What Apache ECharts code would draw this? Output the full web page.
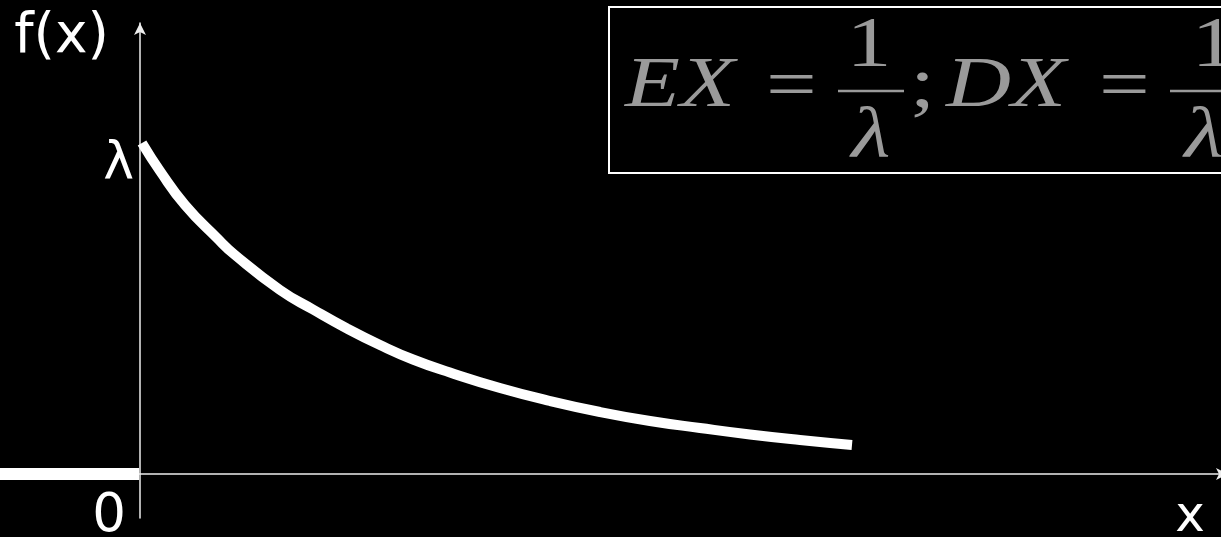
<!DOCTYPE html>
<html>
<head>
<meta charset="utf-8">
<script src="https://cdn.jsdelivr.net/npm/echarts@6/dist/echarts.min.js"></script>
<style>
  html, body { margin: 0; padding: 0; background: #000; }
  #chart { width: 1221px; height: 537px; }
</style>
</head>
<body>
<div id="chart"></div>
<script>
// density curve f(x) for x >= 0
var curveX = [0.02, 0.20, 0.45, 0.77, 0.95, 1.40, 1.73, 2.07, 2.40, 2.73,
  3.10, 3.60, 4.10, 4.60, 5.10, 5.60, 6.10, 6.60, 7.12];
var curveY = [3.31, 3.03, 2.69, 2.36, 2.19, 1.84, 1.645, 1.455, 1.29, 1.145,
  1.015, 0.86, 0.73, 0.62, 0.53, 0.46, 0.395, 0.34, 0.29];
// f(x) = 0 for x < 0
var zeroX = [-1.40, -0.01];
var zeroY = [0, 0];

var lambdaValue = 3.31;
var yTickValues = [lambdaValue];
var yTickLabels = ['λ'];
var xTickValues = [0];
var xTickLabels = ['0'];

function pairs(xs, ys) {
  var out = [];
  for (var i = 0; i < xs.length; i++) {
    out.push([xs[i], ys[i]]);
  }
  return out;
}

var chart = echarts.init(document.getElementById('chart'));

var labelFont = '"DejaVu Sans", Verdana, sans-serif';
var mathFont = '"Liberation Serif", "Times New Roman", serif';
var mathColor = '#9a9a9a';
var axisColor = '#eeeeee';

function mathText(str, x, y, italic, align, size) {
  return {
    type: 'text', x: x, y: y, scaleX: 1.25,
    style: {
      text: str,
      font: (italic ? 'italic ' : '') + (size || 72) + 'px ' + mathFont,
      fill: mathColor,
      align: align || 'left',
      verticalAlign: 'middle'
    }
  };
}

// formula box: EX = 1/λ ; DX = 1/λ²
var formula = [
  { type: 'rect', shape: { x: 609, y: 7, width: 800, height: 166 },
    style: { fill: 'none', stroke: '#fff', lineWidth: 2 } },
  mathText('EX', 625, 87, true),
  mathText('=', 766, 89, false),
  { type: 'line', shape: { x1: 838, y1: 91, x2: 904, y2: 91 },
    style: { stroke: mathColor, lineWidth: 2.5 } },
  mathText('1', 869, 47, false, 'center'),
  mathText('λ', 871, 138, true, 'center'),
  mathText(';', 910, 87, false),
  mathText('DX', 946, 87, true),
  mathText('=', 1099, 89, false),
  { type: 'line', shape: { x1: 1170, y1: 91, x2: 1300, y2: 91 },
    style: { stroke: mathColor, lineWidth: 2.5 } },
  mathText('1', 1214, 47, false, 'center'),
  mathText('λ', 1204, 138, true, 'center'),
  mathText('2', 1234, 115, false, 'left', 46)
];

var option = {
  backgroundColor: '#000',
  animation: false,
  grid: {
    left: 0,
    right: -7,
    top: 23,
    bottom: 19,
    containLabel: false,
    outerBoundsMode: 'none'
  },
  xAxis: {
    type: 'value',
    min: -1.40,
    max: 10.88,
    offset: -44,   // sits on f = 0
    splitLine: { show: false },
    axisTick: { show: false },
    axisLine: {
      onZero: false,
      symbol: ['none', 'arrow'],
      symbolSize: [9, 12],
      lineStyle: { color: axisColor, width: 1.5 }
    },
    axisLabel: {
      customValues: xTickValues,
      formatter: function (v) { return xTickLabels[xTickValues.indexOf(v)] || ''; },
      color: '#fff',
      fontSize: 53,
      fontFamily: labelFont,
      align: 'right',
      verticalAlign: 'top',
      lineHeight: 53,
      padding: [0, 14, 0, 0],
      margin: 17
    },
    name: 'x',
    nameLocation: 'end',
    nameGap: -38,
    nameTextStyle: {
      color: '#fff',
      fontSize: 50,
      fontFamily: labelFont,
      align: 'center',
      verticalAlign: 'top',
      padding: [19, 0, 0, 0]
    }
  },
  yAxis: {
    type: 'value',
    min: -0.44,
    max: 4.51,
    offset: -140,  // sits on x = 0
    splitLine: { show: false },
    axisTick: { show: false },
    axisLine: {
      onZero: false,
      symbol: ['none', 'arrow'],
      symbolSize: [9, 12],
      lineStyle: { color: axisColor, width: 1.5 }
    },
    axisLabel: {
      customValues: yTickValues,
      formatter: function (v) { return yTickLabels[yTickValues.indexOf(v)] || ''; },
      color: '#fff',
      fontSize: 52,
      fontFamily: labelFont,
      align: 'right',
      verticalAlign: 'top',
      lineHeight: 42,
      margin: 6
    },
    name: 'f(x)',
    nameLocation: 'end',
    nameGap: -14.5,
    nameTextStyle: {
      color: '#fff',
      fontSize: 55,
      fontFamily: labelFont,
      align: 'right',
      verticalAlign: 'middle',
      padding: [0, 31, 0, 0]
    }
  },
  graphic: formula,
  series: [
    {
      name: 'f(x), x<0',
      type: 'line',
      data: pairs(zeroX, zeroY),
      symbol: 'none',
      lineStyle: { color: '#fff', width: 12, cap: 'butt' },
      z: 3
    },
    {
      name: 'f(x), x>=0',
      type: 'line',
      data: pairs(curveX, curveY),
      smooth: 0.5,
      symbol: 'none',
      lineStyle: { color: '#fff', width: 10, cap: 'butt' },
      z: 3
    }
  ]
};

chart.setOption(option);
</script>
</body>
</html>
